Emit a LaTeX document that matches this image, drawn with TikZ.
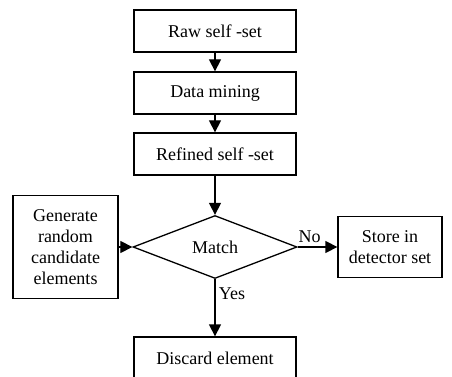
\documentclass[tikz,border=0pt]{standalone}
\usepackage{fontspec}
\setmainfont{Liberation Serif}
\usepackage{tikz}
\usetikzlibrary{shapes.geometric,arrows.meta}

\begin{document}
\begin{tikzpicture}[x=1pt, y=1pt, node distance=62pt,
        font=\fontsize{18}{21}\selectfont,
        box/.style={draw, line width=1.3pt, minimum width=162pt, minimum height=42pt, align=center},
        decision/.style={draw, diamond, line width=1.3pt, minimum width=164pt, minimum height=63pt, inner sep=0pt},
        arr/.style={line width=1.3pt, -{Triangle[length=12pt,width=12pt]}}]
        \useasboundingbox (0,0) rectangle (452,-377);
        \node [box] (raw) at (215,-31) {Raw self -set};
        \node [box, below of=raw] (mining) {Data mining};
        \node [box, below of=mining, yshift=1pt] (refined) {Refined self -set};
        \node [decision, below of=refined, yshift=-31pt] (match) {Match};
        \node [box, below of=match, yshift=-49pt] (discard) {Discard element};
        \node [box, left of=match, xshift=-87.5pt, minimum width=105pt, minimum height=103pt] (generate) {Generate\\random\\candidate\\elements};
        \node [box, right of=match, xshift=113pt, minimum width=104pt, minimum height=61pt] (store) {Store in\\detector set};

        \draw[arr] (raw) -- (mining);
        \draw[arr] (mining) -- (refined);
        \draw[arr] (refined) -- (match);
        \draw[arr] (generate) -- (match);
        \draw[arr] (match) -- node [above, pos=0.3] {No} (store);
        \draw[arr] (match) -- node [right, pos=0.25] {Yes} (discard);
      \end{tikzpicture}
\end{document}
